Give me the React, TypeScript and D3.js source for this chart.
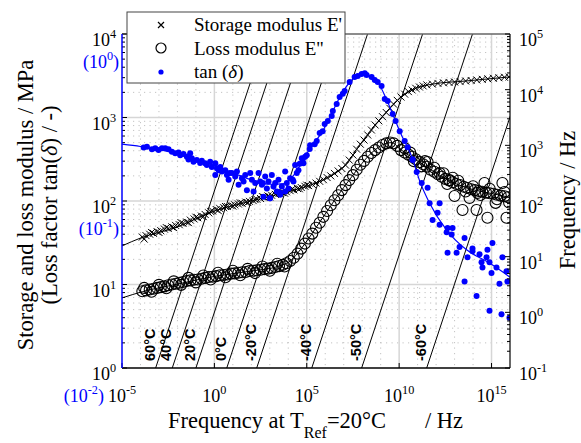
import React from "react";
import * as d3 from "d3";

const W = 581, H = 443;
const PL = 122, PR = 510, PT = 34, PB = 368;
const BLUE = "#0000ff";

const xTickExps = [-5, 0, 5, 10, 15];
const modulusTickExps = [0, 1, 2, 3, 4];
const lossFactorTickExps = [-2, -1, 0];
const freqTickExps = [-1, 0, 1, 2, 3, 4, 5];

const temperatures = ["60°C", "40°C", "20°C", "0°C", "-20°C", "-40°C", "-50°C", "-60°C"];
const logShiftFactors = [-2.18, -1.28, 0, 1.67, 3.29, 6.27, 8.97, 12.49];

// [log10 reduced frequency, E' / MPa]
const storageModulus: [number, number][] = [
  [-3.9, 37], [-3.7, 38.5], [-3.5, 40], [-3.3, 41], [-3.1, 43], [-2.9, 44], [-2.7, 46], [-2.5, 47],
  [-2.3, 49], [-2.1, 51], [-1.9, 52], [-1.7, 54], [-1.5, 56], [-1.3, 59], [-1.1, 61], [-0.9, 63],
  [-0.7, 66], [-0.5, 69], [-0.3, 72], [-0.1, 76], [0.1, 79], [0.3, 81], [0.5, 83], [0.7, 86],
  [0.9, 88], [1.1, 90], [1.3, 92], [1.5, 94], [1.7, 97], [1.9, 99], [2.1, 101], [2.3, 105],
  [2.5, 107], [2.7, 111], [2.9, 115], [3.1, 117], [3.3, 120], [3.5, 123], [3.7, 126], [3.9, 129],
  [4.1, 133], [4.3, 136], [4.5, 141], [4.7, 145], [4.9, 150], [5.1, 153], [5.3, 158], [5.5, 164],
  [5.7, 172], [5.9, 180], [6.1, 191], [6.3, 200], [6.5, 214], [6.7, 229], [6.9, 245], [7.1, 269],
  [7.3, 309], [7.5, 355], [7.7, 417], [7.9, 479], [8.1, 537], [8.3, 617], [8.5, 708], [8.7, 813],
  [8.9, 912], [9.1, 1023], [9.3, 1148], [9.5, 1288], [9.7, 1445], [9.9, 1603], [10.1, 1758], [10.3, 1905],
  [10.5, 2042], [10.7, 2138], [10.9, 2239], [11.1, 2317], [11.3, 2388], [11.5, 2455], [11.8, 2512], [12.1, 2559],
  [12.4, 2600], [12.7, 2630], [13.0, 2661], [13.3, 2692], [13.6, 2735], [13.9, 2773], [14.2, 2818], [14.5, 2864],
  [14.8, 2904], [15.1, 2951], [15.4, 2992], [15.7, 3034], [15.95, 3062],
  [-3.8, 35], [-3.4, 42], [-3.0, 42], [-2.6, 48], [-2.2, 48], [-1.8, 55], [-1.4, 55], [-1.0, 64],
  [-0.6, 65], [-0.2, 75], [0.2, 77], [0.6, 86], [1.0, 87], [1.4, 95], [1.8, 96], [2.2, 104],
  [2.6, 113], [3.0, 112], [3.4, 125], [3.8, 124], [4.2, 138], [4.6, 140], [5.0, 155],
];

// [log10 reduced frequency, E'' / MPa]
const lossModulus: [number, number][] = [
  [-3.9, 8.3], [-3.7, 8.5], [-3.5, 8.7], [-3.3, 8.9], [-3.1, 9.1], [-2.9, 9.3], [-2.7, 9.5], [-2.5, 9.8],
  [-2.3, 10.0], [-2.1, 10.2], [-1.9, 10.5], [-1.7, 10.7], [-1.5, 11.0], [-1.3, 11.2], [-1.1, 11.4], [-0.9, 11.5],
  [-0.7, 11.7], [-0.5, 12.0], [-0.3, 12.3], [-0.1, 12.4], [0.1, 12.6], [0.3, 12.9], [0.5, 13.0], [0.7, 13.2],
  [0.9, 13.5], [1.1, 13.6], [1.3, 13.8], [1.5, 14.0], [1.7, 14.1], [1.9, 14.5], [2.1, 14.6], [2.3, 14.8],
  [2.5, 15.0], [2.7, 15.3], [2.9, 15.5], [3.1, 15.8], [3.3, 16.2], [3.5, 16.6], [3.7, 17.2], [3.9, 18.0],
  [4.1, 19.1], [4.3, 20.9], [4.5, 23.4], [4.7, 26.9], [4.9, 30.9], [5.1, 35.5], [5.3, 40.7], [5.5, 47.9],
  [5.7, 55], [5.9, 64.6], [6.1, 75.9], [6.3, 89], [6.5, 102], [6.7, 117], [6.9, 135], [7.1, 155],
  [7.3, 178], [7.5, 204], [7.7, 237], [7.9, 272], [8.1, 302], [8.3, 339], [8.5, 376], [8.7, 407],
  [8.9, 437], [9.1, 468], [9.3, 490], [9.5, 501], [9.7, 490], [9.9, 457], [10.1, 407], [10.3, 380],
  [10.5, 359], [10.7, 339], [10.9, 316], [11.1, 292], [11.3, 275], [11.5, 257], [11.7, 237], [11.9, 224],
  [12.1, 209], [12.3, 195], [12.5, 184], [12.7, 176], [12.9, 168], [13.1, 160], [13.3, 155], [13.5, 148],
  [13.7, 143], [13.9, 138], [14.1, 135], [14.3, 132], [14.5, 129], [14.7, 126], [14.9, 124], [15.1, 122],
  [15.3, 119], [15.5, 116], [15.7, 114], [15.9, 111],
  [13.43, 78], [14.19, 78], [14.78, 63], [15.81, 63], [13.0, 115], [13.81, 109], [15.22, 95], [15.59, 164],
  [14.62, 164], [14.24, 125], [12.19, 216], [12.73, 178], [11.54, 293],
  [-3.8, 9.1], [-3.4, 8.2], [-3.0, 9.9], [-2.6, 9.0], [-2.2, 10.9], [-1.8, 9.9], [-1.4, 12.0], [-1.0, 10.6],
  [-0.6, 12.8], [-0.2, 11.5], [0.2, 13.8], [0.6, 12.2], [1.0, 14.6], [1.4, 12.9], [1.8, 15.4], [2.2, 13.7],
  [2.6, 16.4], [3.0, 14.6], [3.4, 17.7], [3.8, 16.4],
  [10.3, 430], [10.6, 380], [10.8, 300], [11.2, 260], [11.4, 300], [11.9, 250], [12.4, 215], [12.6, 160],
  [12.9, 190], [13.2, 175], [13.6, 130], [14.0, 150], [14.4, 118], [14.9, 140], [15.3, 105], [15.7, 128],
  [15.95, 96],
];

// [log10 reduced frequency, tan(delta)]
const lossFactor: [number, number][] = [
  [-3.83, 0.209], [-3.65, 0.211], [-3.38, 0.204], [-3.2, 0.207], [-3.02, 0.202], [-2.84, 0.207], [-2.66, 0.207],
  [-2.48, 0.204], [-2.3, 0.197], [-2.12, 0.193], [-1.94, 0.195], [-1.85, 0.188], [-1.67, 0.191], [-1.49, 0.184],
  [-1.31, 0.193], [-1.4, 0.177], [-1.22, 0.18], [-1.13, 0.172], [-0.95, 0.176], [-0.77, 0.169], [-0.68, 0.174],
  [-0.5, 0.168], [-0.41, 0.164], [-0.23, 0.172], [-0.14, 0.16], [0.05, 0.168], [0.14, 0.157], [0.23, 0.153],
  [0.32, 0.16], [0.05, 0.143], [0.41, 0.15], [0.59, 0.153], [0.68, 0.143], [0.77, 0.134], [0.95, 0.147],
  [1.13, 0.14], [1.22, 0.15], [1.31, 0.125], [1.49, 0.137], [1.58, 0.131], [1.67, 0.143], [1.76, 0.116],
  [1.94, 0.147], [2.03, 0.134], [2.12, 0.114], [2.21, 0.128], [2.39, 0.147], [2.48, 0.131], [2.57, 0.125],
  [2.66, 0.106], [2.75, 0.14], [2.84, 0.119], [2.93, 0.131], [3.02, 0.104], [3.11, 0.143], [3.2, 0.122],
  [3.29, 0.128], [3.38, 0.114], [3.47, 0.134], [3.56, 0.109], [3.65, 0.122], [3.83, 0.15], [3.83, 0.114],
  [3.92, 0.128], [4.01, 0.119], [4.1, 0.137], [4.28, 0.131], [4.37, 0.164], [4.46, 0.147], [4.55, 0.153],
  [4.73, 0.18], [4.82, 0.168], [4.91, 0.184], [5.0, 0.188], [5.18, 0.216], [0.84, 0.147], [2.62, 0.128],
  [3.54, 0.112], [3.0, 0.104], [4.24, 0.134],
  [4.62, 0.167], [4.78, 0.178], [5.16, 0.205], [5.43, 0.219], [5.54, 0.229], [5.7, 0.255], [5.86, 0.262],
  [5.97, 0.289], [6.14, 0.301], [6.35, 0.323], [6.41, 0.346], [6.62, 0.381], [6.78, 0.42], [6.95, 0.438],
  [7.05, 0.456], [7.32, 0.516], [7.59, 0.553], [7.76, 0.561], [7.97, 0.576], [8.14, 0.583], [8.24, 0.568],
  [8.51, 0.553], [8.68, 0.531], [8.84, 0.516], [9.05, 0.489], [9.22, 0.408], [9.38, 0.397], [9.65, 0.332],
  [9.81, 0.301], [10.03, 0.262], [10.3, 0.229], [10.46, 0.21], [10.73, 0.178],
  [10.73, 0.176], [10.95, 0.149], [11.22, 0.128], [11.54, 0.12], [11.65, 0.097], [12.19, 0.097], [12.08, 0.085],
  [11.81, 0.077], [12.19, 0.072], [12.62, 0.069], [12.89, 0.069], [12.57, 0.065], [13.54, 0.06], [13.27, 0.053],
  [12.62, 0.049], [13.11, 0.049], [13.97, 0.052], [13.7, 0.046], [14.35, 0.048], [14.73, 0.046], [15.05, 0.056],
  [14.78, 0.051], [14.46, 0.043], [14.89, 0.043], [14.51, 0.04], [15.27, 0.04], [15.59, 0.046], [15.81, 0.038],
  [15.0, 0.037], [15.43, 0.032], [13.54, 0.033], [14.19, 0.027], [14.89, 0.022], [15.54, 0.021], [15.97, 0.02],
  [12.84, 0.063], [13.97, 0.05], [15.86, 0.033],
];

// fitted master curves
const storageFit: [number, number][] = [
  [-5, 29], [-4, 36], [-2, 49], [0, 76], [2, 100], [4, 130], [5.3, 158], [6.3, 200], [7.1, 270],
  [7.9, 480], [8.9, 910], [9.9, 1600], [10.7, 2140], [11.8, 2510], [13.6, 2735], [16, 3065],
];
const lossFit: [number, number][] = [
  [-5, 6.9], [-3.9, 8.2], [-2, 10.1], [0, 12.5], [2, 14.5], [3.5, 16.6], [4.1, 19.1], [4.7, 26.9],
  [5.5, 47.9], [6.5, 102], [7.5, 204], [8.5, 376], [9.3, 490], [9.6, 500], [10.1, 410], [11.1, 292],
  [12.1, 209], [13.1, 160], [14.1, 135], [15.1, 122], [16, 110],
];
const lossFactorFit: [number, number][] = [
  [-5, 0.219], [-4, 0.212], [-3, 0.203], [-2, 0.192], [-1, 0.178], [0, 0.163], [1, 0.147], [2, 0.134],
  [3, 0.126], [3.8, 0.127], [4.4, 0.148], [4.9, 0.185], [5.4, 0.222], [5.86, 0.262], [6.41, 0.346],
  [6.9, 0.44], [7.4, 0.525], [7.9, 0.574], [8.3, 0.567], [8.84, 0.516], [9.3, 0.41], [9.65, 0.332],
  [10.03, 0.262], [10.73, 0.178], [11.11, 0.132], [11.65, 0.097], [12.57, 0.067], [13.65, 0.051],
  [14.89, 0.0425], [16, 0.035],
];

const SERIF = "'Liberation Serif', 'Times New Roman', serif";
const SANS = "'Liberation Sans', Arial, sans-serif";

function Pow({ x, y, exp, anchor, fill = "#000", paren = false, size = 18 }: any) {
  return (
    <text x={x} y={y} textAnchor={anchor} fontSize={size} fill={fill} fontFamily={SERIF}>
      {paren ? "(" : ""}10<tspan dy={-8} fontSize={size * 0.68}>{exp}</tspan>
      {paren ? <tspan dy={8}>)</tspan> : null}
    </text>
  );
}

export default function App() {
  const x = d3.scaleLog().domain([1e-5, 1e16]).range([PL, PR]);
  const yE = d3.scaleLog().domain([1, 1e4]).range([PB, PT]);
  const yT = d3.scaleLog().domain([1e-2, 1]).range([PB, PT]);
  const yF = d3.scaleLog().domain([1e-1, 1e5]).range([PB, PT]);
  const fx = (e: number) => x(Math.pow(10, e));

  const lineE = d3.line<[number, number]>().x((d) => fx(d[0])).y((d) => yE(d[1])).curve(d3.curveMonotoneX);
  const lineT = d3.line<[number, number]>().x((d) => fx(d[0])).y((d) => yT(d[1])).curve(d3.curveMonotoneX);

  const minorY: number[] = [];
  for (let e = 0; e < 4; e++) for (let k = 2; k <= 9; k++) minorY.push(yE(k * Math.pow(10, e)));
  const minorX: number[] = [];
  for (let e = -4; e <= 15; e++) if (!xTickExps.includes(e)) minorX.push(fx(e));
  const minorF: number[] = [];
  for (let e = -1; e < 5; e++) for (let k = 2; k <= 9; k++) minorF.push(yF(k * Math.pow(10, e)));

  const crossPath = storageModulus
    .map((d) => {
      const cx = fx(d[0]), cy = yE(d[1]), s = 3.5;
      return `M${cx - s},${cy - s}L${cx + s},${cy + s}M${cx - s},${cy + s}L${cx + s},${cy - s}`;
    })
    .join("");

  const tempLines = logShiftFactors.map((s) => {
    const f0 = 0.1, f1 = 1e5;
    return { x0: x(f0 * Math.pow(10, s)), y0: yF(f0), x1: x(f1 * Math.pow(10, s)), y1: yF(f1) };
  });

  return (
    <svg width={W} height={H} style={{ position: "absolute", left: 0, top: 0, background: "#fff" }}>
      <defs>
        <clipPath id="plot">
          <rect x={PL} y={PT} width={PR - PL} height={PB - PT} />
        </clipPath>
      </defs>
      <rect x={0} y={0} width={W} height={H} fill="#fff" />
      {/* grid */}
      <g stroke="#b4b4b4" strokeWidth={0.8} strokeDasharray="1.2,4.3">
        {minorY.map((v, i) => <line key={"my" + i} x1={PL} x2={PR} y1={v} y2={v} />)}
        {minorX.map((v, i) => <line key={"mx" + i} x1={v} x2={v} y1={PT} y2={PB} />)}
      </g>
      <g stroke="#d6d6d6" strokeWidth={1.5}>
        {modulusTickExps.slice(1, 4).map((e) => <line key={"gy" + e} x1={PL} x2={PR} y1={yE(Math.pow(10, e))} y2={yE(Math.pow(10, e))} />)}
        {xTickExps.slice(1).map((e) => <line key={"gx" + e} x1={fx(e)} x2={fx(e)} y1={PT} y2={PB} />)}
      </g>
      <g clipPath="url(#plot)">
        {tempLines.map((l, i) => (
          <line key={"t" + i} x1={l.x0} y1={l.y0} x2={l.x1} y2={l.y1} stroke="#000" strokeWidth={1} />
        ))}
        <path d={lineE(storageFit) || ""} fill="none" stroke="#000" strokeWidth={1} />
        <path d={lineE(lossFit) || ""} fill="none" stroke="#000" strokeWidth={1} />
        <path d={crossPath} stroke="#000" strokeWidth={1} fill="none" />
        {lossModulus.map((d, i) => (
          <circle key={"c" + i} cx={fx(d[0])} cy={yE(d[1])} r={5.5} fill="none" stroke="#000" strokeWidth={1.1} />
        ))}
        {lossFactor.map((d, i) => (
          <circle key={"b" + i} cx={fx(d[0])} cy={yT(d[1])} r={3} fill={BLUE} />
        ))}
        <path d={lineT(lossFactorFit) || ""} fill="none" stroke={BLUE} strokeWidth={1.2} />
      </g>
      {tempLines.map((l, i) => (
        <text key={"tl" + i} transform={`translate(${l.x0 - 1},${PB - 7}) rotate(-90)`} fontSize={14.5}
          fontWeight="bold" fontFamily={SANS} textAnchor="start">{temperatures[i]}</text>
      ))}
      {/* axes */}
      <line x1={PL} x2={PR} y1={PT} y2={PT} stroke="#666" strokeWidth={1.5} />
      <line x1={PR} x2={PR} y1={PT} y2={PB} stroke="#000" strokeWidth={1.2} />
      <line x1={PL} x2={PR} y1={PB} y2={PB} stroke="#000" strokeWidth={1.5} />
      <g stroke="#000" strokeWidth={1}>
        {modulusTickExps.map((e) => <line key={"lt" + e} x1={PL} x2={PL + 5} y1={yE(Math.pow(10, e))} y2={yE(Math.pow(10, e))} />)}
        {minorY.map((v, i) => <line key={"lmt" + i} x1={PL} x2={PL + 3} y1={v} y2={v} />)}
        {freqTickExps.map((e) => <line key={"rt" + e} x1={PR - 5} x2={PR} y1={yF(Math.pow(10, e))} y2={yF(Math.pow(10, e))} />)}
        {minorF.map((v, i) => <line key={"rmt" + i} x1={PR - 3} x2={PR} y1={v} y2={v} />)}
        {xTickExps.map((e) => <line key={"bt" + e} x1={fx(e)} x2={fx(e)} y1={PB} y2={PB - 5} />)}
      </g>
      <line x1={PL} x2={PL} y1={PT} y2={PB} stroke={BLUE} strokeWidth={1.5} />
      {/* tick labels */}
      {xTickExps.map((e) => <Pow key={"xl" + e} x={fx(e)} y={PB + 34} exp={String(e)} anchor="middle" />)}
      {modulusTickExps.map((e) => <Pow key={"yl" + e} x={PL - 6} y={yE(Math.pow(10, e)) + 12} exp={String(e)} anchor="end" />)}
      {lossFactorTickExps.map((e, i) => (
        <Pow key={"tl" + e} x={i === 0 ? fx(-5) - 18 : PL - 3} y={yT(Math.pow(10, e)) + 34} exp={String(e)}
          anchor="end" fill={BLUE} paren />
      ))}
      {freqTickExps.map((e) => <Pow key={"fl" + e} x={PR + 9} y={yF(Math.pow(10, e)) + 12} exp={String(e)} anchor="start" />)}
      {/* axis titles */}
      <text x={168} y={428} textAnchor="start" fontSize={22.5} fontFamily={SERIF}>
        Frequency at T<tspan dy={10} fontSize={16}>Ref</tspan><tspan dy={-10}>=20°C</tspan>
      </text>
      <text x={463} y={428} textAnchor="end" fontSize={22.5} fontFamily={SERIF}>/ Hz</text>
      <text transform="translate(33,205) rotate(-90)" textAnchor="middle" fontSize={22.5} fontFamily={SERIF}>
        Storage and loss modulus / MPa
      </text>
      <text transform="translate(57,205) rotate(-90)" textAnchor="middle" fontSize={22.5} fontFamily={SERIF}>
        (Loss factor tan(<tspan fontStyle="italic">δ</tspan>) / -)
      </text>
      <text transform="translate(575,200) rotate(-90)" textAnchor="middle" fontSize={22.5} fontFamily={SERIF}>
        Frequency / Hz
      </text>
      {/* legend */}
      <g>
        <rect x={127} y={12} width={218} height={71} fill="#fff" stroke="#444" strokeWidth={1} />
        <path d="M158,22L164,28M158,28L164,22" stroke="#000" strokeWidth={1.2} />
        <circle cx={161} cy={48} r={5} fill="none" stroke="#000" strokeWidth={1.2} />
        <circle cx={161} cy={72} r={2.6} fill={BLUE} />
        <text x={194} y={31} fontSize={19} fontFamily={SERIF}>Storage modulus E'</text>
        <text x={194} y={55} fontSize={19} fontFamily={SERIF}>Loss modulus E''</text>
        <text x={194} y={78} fontSize={19} fontFamily={SERIF}>tan (<tspan fontStyle="italic">δ</tspan>)</text>
      </g>
    </svg>
  );
}
